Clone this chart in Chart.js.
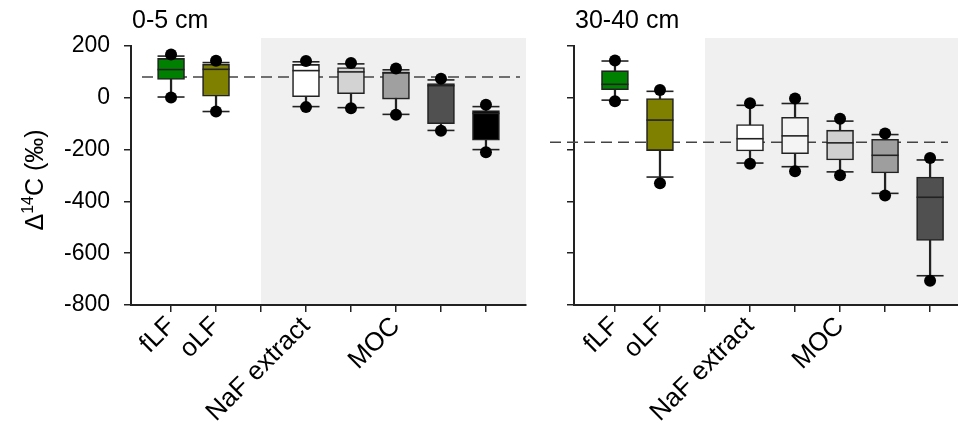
<!DOCTYPE html>
<html>
<head>
<meta charset="utf-8">
<script src="https://cdn.jsdelivr.net/npm/chart.js@4"></script>
<style>
  body { margin: 0; background: #fff; }
  #left { position: absolute; left: 0; top: 0; }
  #right { position: absolute; left: 530px; top: 0; }
</style>
</head>
<body>
<canvas id="left" width="530" height="423"></canvas>
<canvas id="right" width="428" height="423"></canvas>
<script>
const categories = ["fLF", "oLF", "", "NaF extract", "", "MOC", "", ""];
const tickPositions = [1, 2, 3, 4, 5, 6, 7, 8];
const boxPositions = [1, 2, 4, 5, 6, 7, 8];
const yTicks = [200, 0, -200, -400, -600, -800];

// 0-5 cm
const topMaxDot = [167, 143, 142, 134, 113, 74, -27];
const topUpperCap = [161, 136, 139, 131, 108, 69, -34];
const topQ3 = [152, 130, 129, 117, 100, 55, -49];
const topMedian = [109, 110, 105, 100, 96, 47, -60];
const topQ1 = [71, 6, 4, 16, -5, -100, -164];
const topLowerCap = [3, -53, -34, -38, -64, -126, -200];
const topMinDot = [1, -53, -36, -40, -65, -127, -210];
const topColors = ["#008000", "#808000", "#ffffff", "#d3d3d3", "#a0a0a0", "#505050", "#000000"];
const topRef = 80;

// 30-40 cm
const subMaxDot = [144, 30, -21, -3, -81, -138, -232];
const subUpperCap = [142, 25, -29, -22, -90, -142, -240];
const subQ3 = [105, 0, -103, -75, -125, -160, -306];
const subMedian = [52, -86, -158, -147, -174, -222, -384];
const subQ1 = [31, -204, -205, -216, -240, -290, -551];
const subLowerCap = [-9, -306, -252, -266, -286, -369, -687];
const subMinDot = [-13, -330, -255, -284, -299, -377, -706];
const subColors = ["#008000", "#808000", "#ffffff", "#f4f4f4", "#d0d0d0", "#9e9e9e", "#505050"];
const subRef = -172;

const FONT = "'Liberation Sans', Arial, sans-serif";
const INK = "#222";

const decor = {
    id: "decor",
    beforeDraw(chart, args, o) {
        const { ctx, chartArea, scales: { x } } = chart;
        const x0 = x.getPixelForValue(3);
        ctx.save();
        ctx.fillStyle = "#f0f0f0";
        ctx.fillRect(x0, chartArea.top - 8, chartArea.right - x0, chartArea.bottom - chartArea.top + 8);
        ctx.restore();
    },
    beforeDatasetsDraw(chart, args, o) {
        const { ctx, chartArea, scales: { y } } = chart;
        const py = y.getPixelForValue(o.ref);
        ctx.save();
        ctx.strokeStyle = "#444";
        ctx.lineWidth = 1.5;
        ctx.setLineDash([11, 6]);
        ctx.beginPath();
        ctx.moveTo(chartArea.left + o.dashFrom, py);
        ctx.lineTo(chartArea.right - o.dashTo, py);
        ctx.stroke();
        ctx.restore();
    },
    afterDraw(chart, args, o) {
        const { ctx, chartArea } = chart;
        ctx.save();
        ctx.fillStyle = "#000";
        ctx.font = "25px " + FONT;
        ctx.textBaseline = "alphabetic";
        ctx.fillText(o.title, chartArea.left + 1, 28);
        if (o.yTitle) {
            ctx.translate(43, 180);
            ctx.rotate(-Math.PI / 2);
            ctx.textAlign = "left";
            const parts = [["Δ", 25, 0], ["14", 16, -10], ["C (‰)", 25, 0]];
            let w = 0;
            parts.forEach(p => { ctx.font = p[1] + "px " + FONT; w += ctx.measureText(p[0]).width; });
            let cx = -w / 2;
            parts.forEach(p => {
                ctx.font = p[1] + "px " + FONT;
                ctx.fillText(p[0], cx, p[2]);
                cx += ctx.measureText(p[0]).width;
            });
        }
        ctx.restore();
    }
};

function makePanel(id, d) {
    const pts = arr => boxPositions.map((p, i) => ({ x: p, y: arr[i] }));
    const ctx = document.getElementById(id).getContext("2d");
    return new Chart(ctx, {
        type: "bar",
        data: {
            datasets: [
                { type: "scatter", data: pts(d.maxDot).concat(pts(d.minDot)), pointRadius: 6,
                  backgroundColor: "#000", borderWidth: 0, order: 0 },
                { type: "scatter", data: pts(d.median), pointStyle: "line", pointRadius: 13.5,
                  borderColor: INK, borderWidth: 1.6, order: 1 },
                { type: "scatter", data: pts(d.upperCap).concat(pts(d.lowerCap)), pointStyle: "line",
                  pointRadius: 13.5, borderColor: INK, borderWidth: 1.6, order: 1 },
                { data: boxPositions.map((p, i) => ({ x: p, y: [d.q1[i], d.q3[i]] })),
                  backgroundColor: d.colors, borderColor: INK, borderWidth: 1.6, borderSkipped: false,
                  barThickness: 27, grouped: false, order: 2 },
                { data: boxPositions.map((p, i) => ({ x: p, y: [d.lowerCap[i], d.upperCap[i]] })),
                  backgroundColor: INK, borderWidth: 0, barThickness: 1.6, grouped: false, order: 3 }
            ]
        },
        options: {
            responsive: false,
            animation: false,
            layout: { autoPadding: false, padding: { top: 46, right: d.padRight, left: 0, bottom: 0 } },
            plugins: {
                legend: { display: false },
                tooltip: { enabled: false },
                decor: { ref: d.ref, title: d.title, yTitle: d.yTitle, dashFrom: d.dashFrom, dashTo: d.dashTo }
            },
            scales: {
                x: {
                    type: "linear", min: d.xMin, max: d.xMax, offset: false,
                    afterBuildTicks: a => { a.ticks = tickPositions.map(v => ({ value: v })); },
                    afterFit: s => { s.height = 118; s.paddingLeft = 0; s.paddingRight = 0; },
                    grid: { offset: false, drawOnChartArea: false, tickLength: 7, color: INK, lineWidth: 1.5 },
                    border: { color: INK, width: 2 },
                    ticks: {
                        autoSkip: false, minRotation: 45, maxRotation: 45, padding: -1, color: "#000",
                        font: { family: FONT, size: 26 },
                        callback: v => categories[v - 1] || ""
                    }
                },
                y: {
                    min: -800, max: 200,
                    afterBuildTicks: a => { a.ticks = yTicks.map(v => ({ value: v })); },
                    afterFit: s => { s.width = d.yWidth; s.paddingTop = 0; s.paddingBottom = 0; },
                    grid: { drawOnChartArea: false, tickLength: 7, color: INK, lineWidth: 1.5 },
                    border: { color: INK, width: 2 },
                    ticks: { display: d.yLabels, padding: 14, color: "#000", font: { family: FONT, size: 23 } }
                }
            }
        },
        plugins: [decor]
    });
}

document.addEventListener("DOMContentLoaded", () => {
    makePanel("left", {
        maxDot: topMaxDot, upperCap: topUpperCap, q3: topQ3, median: topMedian, q1: topQ1,
        lowerCap: topLowerCap, minDot: topMinDot, colors: topColors, ref: topRef,
        title: "0-5 cm", yTitle: true, yLabels: true, yWidth: 131, padRight: 4,
        xMin: 0.11, xMax: 8.89, dashFrom: 11, dashTo: 6
    });
    makePanel("right", {
        maxDot: subMaxDot, upperCap: subUpperCap, q3: subQ3, median: subMedian, q1: subQ1,
        lowerCap: subLowerCap, minDot: subMinDot, colors: subColors, ref: subRef,
        title: "30-40 cm", yTitle: false, yLabels: false, yWidth: 44, padRight: 0,
        xMin: 0.09, xMax: 8.62, dashFrom: -24, dashTo: 10
    });
});
</script>
</body>
</html>
